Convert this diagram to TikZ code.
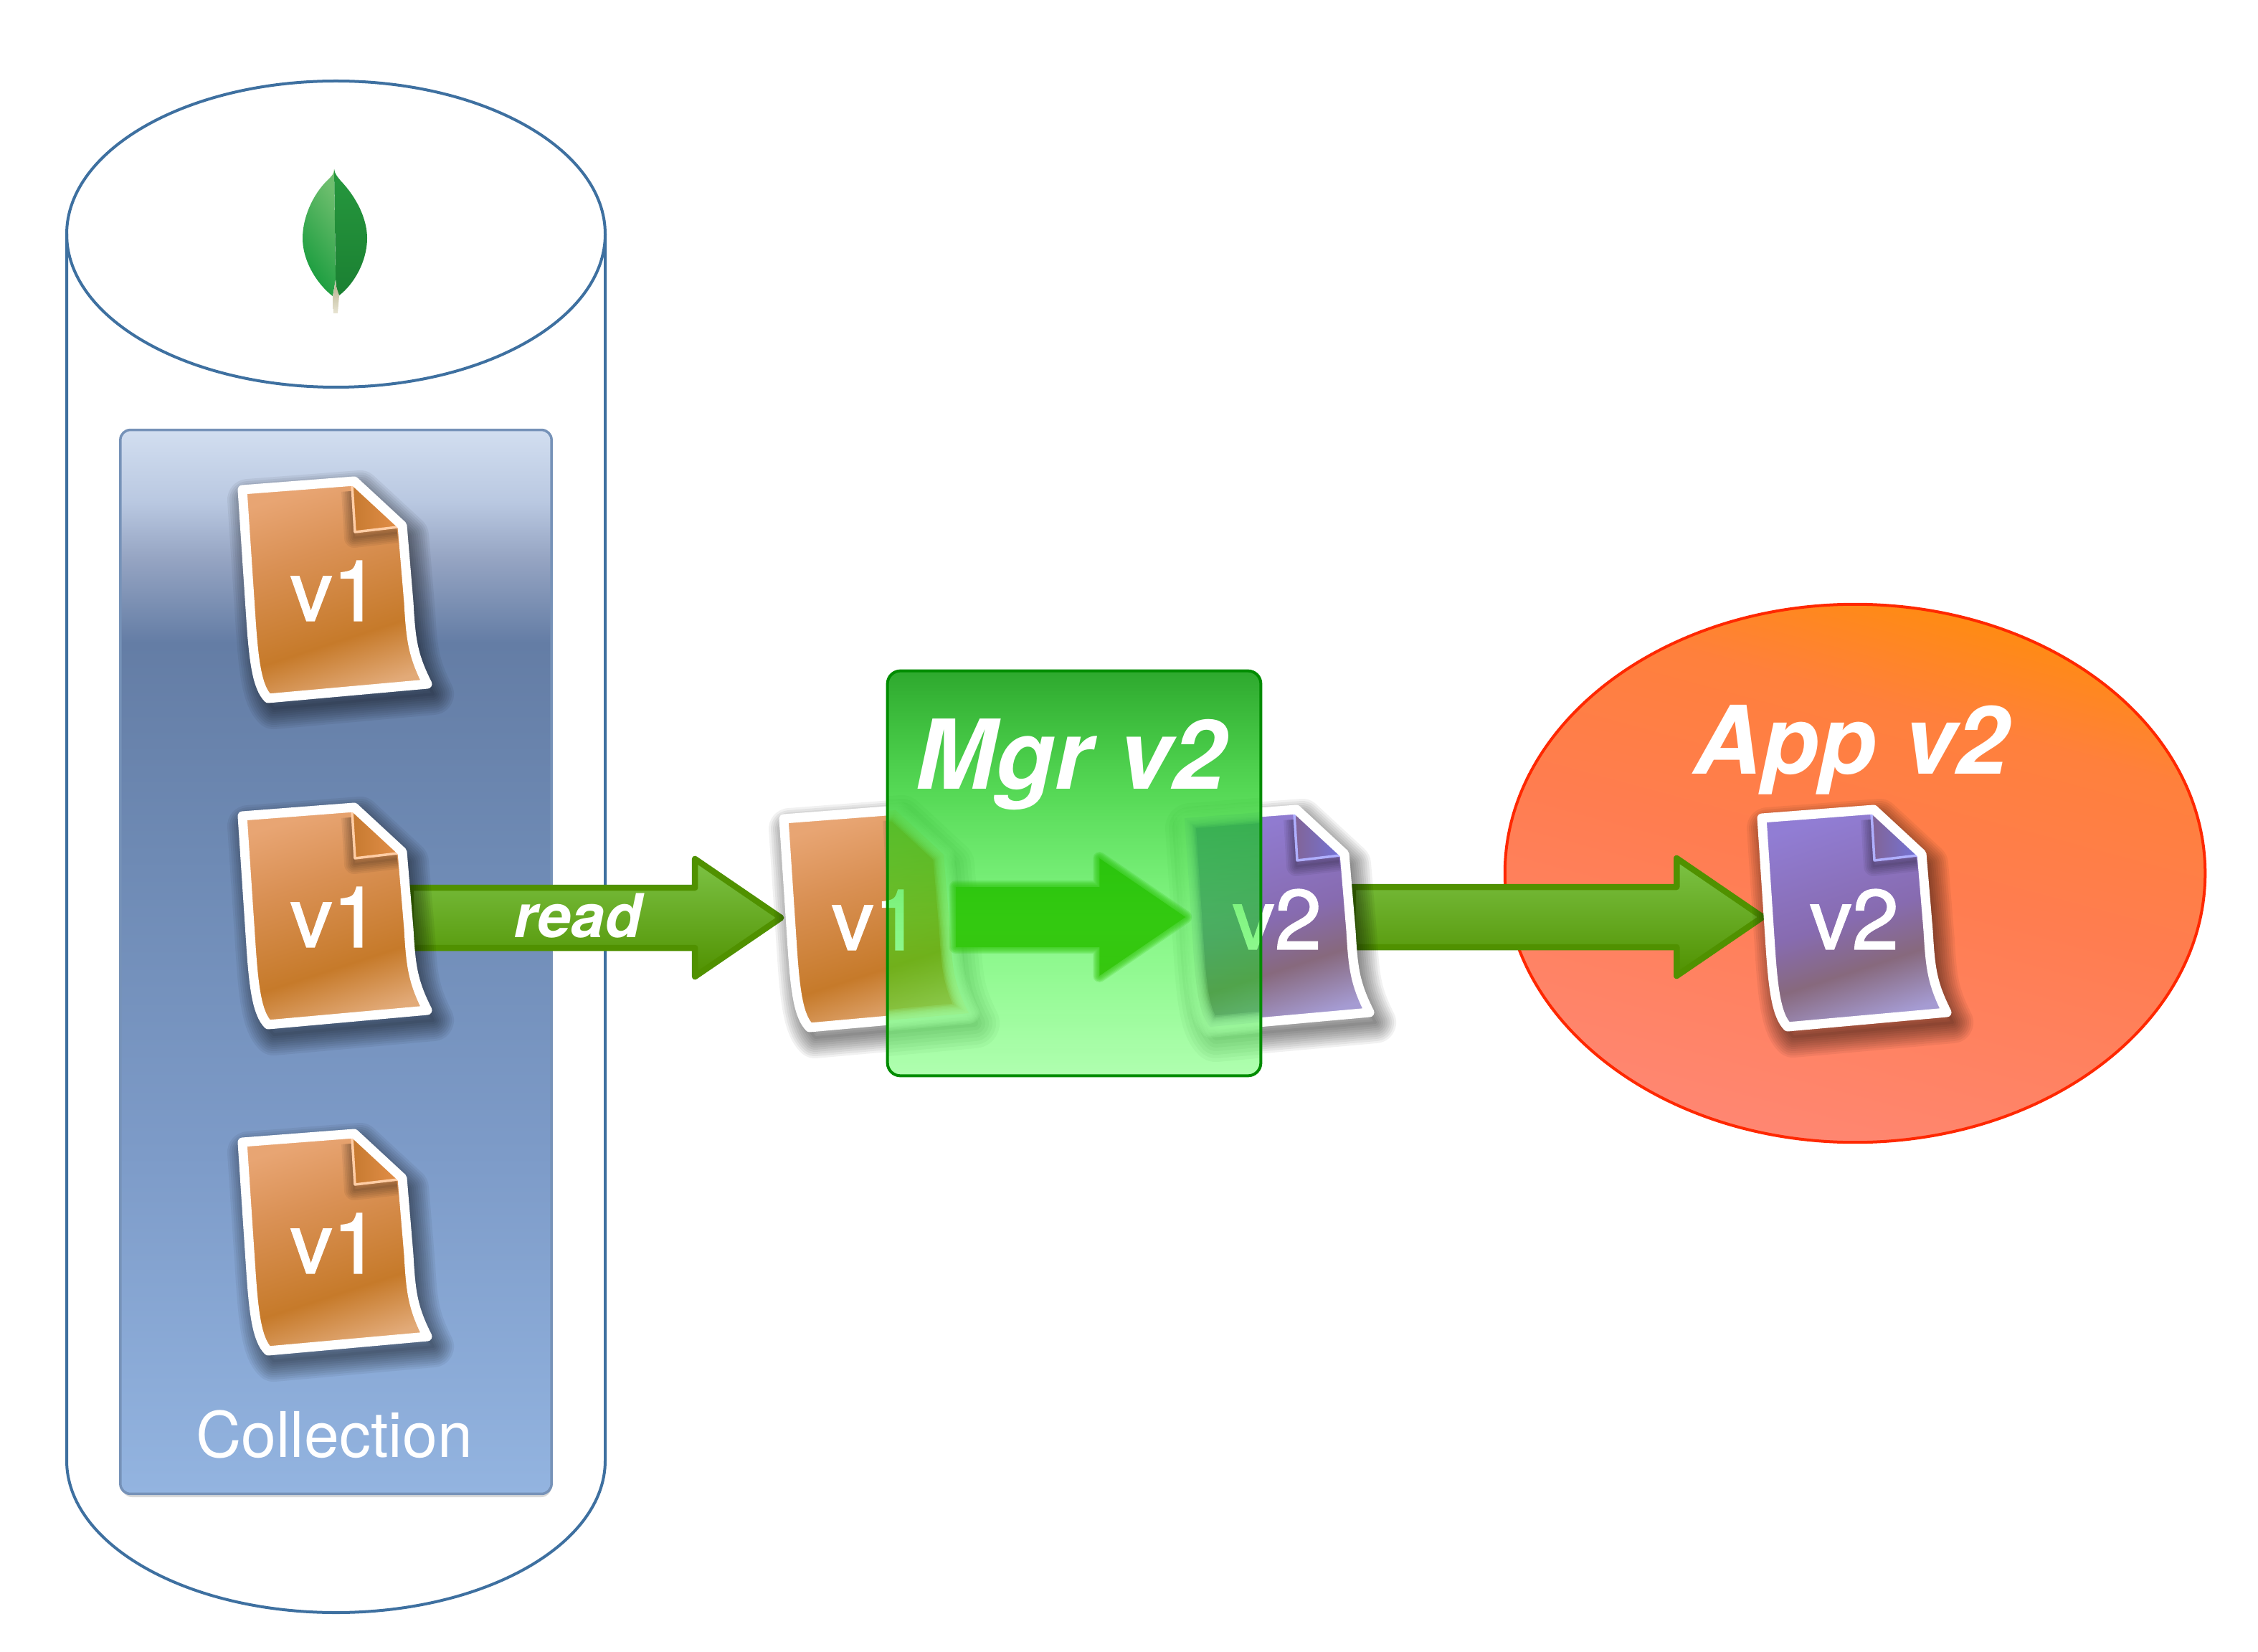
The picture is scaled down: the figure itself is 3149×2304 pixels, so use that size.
\documentclass[tikz,border=0pt]{standalone}
\usepackage{fontspec}
\setmainfont{TeX Gyre Heros}
\newfontfamily\docfont[FakeBold=1.4]{TeX Gyre Heros}
\usetikzlibrary{calc,fadings,shapes.geometric}

\pgfdeclarelayer{back}
\pgfdeclarelayer{art}
\pgfdeclarelayer{frost}
\pgfdeclarelayer{glass}
\pgfsetlayers{back,art,frost,main,glass}

\definecolor{cylline}{RGB}{62,112,160}
\definecolor{colledge}{RGB}{118,146,184}
\definecolor{arrowedge}{RGB}{80,145,0}
\definecolor{arrowtop}{RGB}{125,195,70}
\definecolor{arrowsoft}{RGB}{90,165,20}
\definecolor{glassedge}{RGB}{0,140,0}
\definecolor{appedge}{RGB}{255,40,0}
\definecolor{foldodark}{RGB}{198,122,48}
\definecolor{foldolight}{RGB}{226,142,72}
\definecolor{foldoedge}{RGB}{255,205,165}
\definecolor{foldpdark}{RGB}{130,100,150}
\definecolor{foldplight}{RGB}{115,115,215}
\definecolor{foldpedge}{RGB}{175,175,255}
\definecolor{leafa}{RGB}{22,155,60}
\definecolor{leafb}{RGB}{110,190,110}
\definecolor{leafc}{RGB}{38,152,62}
\definecolor{leafd}{RGB}{27,128,50}
\definecolor{stema}{RGB}{180,175,140}
\definecolor{stemb}{RGB}{232,228,210}

\definecolor{colla}{RGB}{147,180,224}
\definecolor{collb}{RGB}{125,155,200}
\definecolor{collc}{RGB}{110,138,180}
\definecolor{colld}{RGB}{100,125,165}
\definecolor{colle}{RGB}{150,165,195}
\definecolor{collf}{RGB}{185,200,225}
\definecolor{collg}{RGB}{210,222,240}
\pgfdeclareverticalshading{collfill}{100bp}{color(0bp)=(colla); color(25bp)=(colla); color(41bp)=(collb); color(55bp)=(collc); color(65bp)=(colld); color(69bp)=(colle); color(71.6bp)=(collf); color(75bp)=(collg); color(100bp)=(collg)}

\definecolor{dora}{RGB}{226,170,120}
\definecolor{dorb}{RGB}{198,122,42}
\definecolor{dorc}{RGB}{218,145,85}
\definecolor{dord}{RGB}{232,165,115}
\pgfdeclareverticalshading{docorange}{100bp}{color(0bp)=(dora); color(25bp)=(dora); color(38bp)=(dorb); color(60bp)=(dorc); color(75bp)=(dord); color(100bp)=(dord)}

\definecolor{dpua}{RGB}{165,155,210}
\definecolor{dpub}{RGB}{135,105,125}
\definecolor{dpuc}{RGB}{135,107,176}
\definecolor{dpud}{RGB}{145,125,212}
\pgfdeclareverticalshading{docpurple}{100bp}{color(0bp)=(dpua); color(25bp)=(dpua); color(38bp)=(dpub); color(50bp)=(dpuc); color(75bp)=(dpud); color(100bp)=(dpud)}

\definecolor{appa}{RGB}{255,135,115}
\definecolor{appb}{RGB}{255,125,80}
\definecolor{appc}{RGB}{255,128,60}
\definecolor{appd}{RGB}{255,140,15}
\pgfdeclareverticalshading{appfill}{100bp}{color(0bp)=(appa); color(25bp)=(appa); color(50bp)=(appb); color(65bp)=(appc); color(75bp)=(appd); color(100bp)=(appd)}

\definecolor{glsa}{RGB}{0,255,0}
\definecolor{glsb}{RGB}{14,237,14}
\definecolor{glsc}{RGB}{2,197,2}
\definecolor{glsd}{RGB}{0,150,0}
\pgfdeclareverticalshading{glassfill}{100bp}{color(0bp)=(glsa); color(25bp)=(glsa); color(44.5bp)=(glsb); color(60.5bp)=(glsc); color(75bp)=(glsd); color(100bp)=(glsd)}
\tikzfading[name=glassfade, top color=transparent!18, bottom color=transparent!69]

\newcommand{\docoutline}{(-118,-141) -- (38,-153) -- (105,-91) -- (114,16)
  .. controls (117,70) and (120,90) .. (140,130) -- (-82,150)
  .. controls (-97,135) and (-102,100) .. (-106,40) -- cycle}

% x, y, body shading, fold dark, fold light, fold edge
\newcommand{\docart}[6]{
  \begin{scope}[shift={(#1,#2)}]
    \foreach \w in {4,10,...,58} {
      \draw[black, opacity=.055, line width=\w*.01cm, line join=round, shift={(8,14)}] \docoutline;
    }
    \shade[shading=#3, shading angle=18] \docoutline;
    \begin{scope}
      \clip \docoutline;
      \foreach \w in {3,8,...,28} {
        \draw[black, opacity=.06, line width=\w*.01cm, line join=round, shift={(-1,8)}] (35,-147) -- (39,-82) -- (99,-89);
      }
      \shade[left color=#4, right color=#5] (35,-147) -- (39,-82) -- (99,-89) -- cycle;
      \draw[#6, line width=.035cm, line join=round] (35,-147) -- (39,-82) -- (99,-89);
    \end{scope}
    \draw[white, line width=.13cm, line join=round] \docoutline;
  \end{scope}
}

% the same document as seen through the green glass
\newcommand{\docfrost}[3]{
  \begin{scope}[shift={(#1,#2)}]
    \foreach \w in {10,20,...,70} {
      \draw[black, opacity=.04, line width=\w*.01cm, line join=round, shift={(8,14)}] \docoutline;
    }
    \shade[shading=#3, shading angle=18] \docoutline;
    \foreach \w in {6,10,...,30} {
      \draw[white, opacity=.2, line width=\w*.01cm, line join=round] \docoutline;
    }
  \end{scope}
}

\begin{document}
\begin{tikzpicture}[
  x=.01cm, y=-.01cm,
  docspot/.style={minimum width=2.32cm, minimum height=2.6cm, inner sep=0pt, text=white,
    font=\docfont\fontsize{33.5}{36}\selectfont, execute at begin node={\hspace*{.22cm}}},
  blockarrow/.style={line join=round, to path={
    ($(\tikztostart |- \tikztotarget)+(0,-45)$) -- ($(\tikztotarget)+(-120,-45)$) --
    ($(\tikztotarget)+(-120,-85)$) -- ($(\tikztotarget)+(0,-3)$) --
    ($(\tikztotarget)+(-120,79)$) -- ($(\tikztotarget)+(-120,39)$) --
    ($(\tikztostart |- \tikztotarget)+(0,39)$) -- cycle}},
  fatarrow/.style={blockarrow, draw=arrowedge, line width=.085cm,
    top color=arrowtop, bottom color=arrowedge},
  title/.style={text=white, anchor=base, inner sep=0pt,
    font=\fontsize{37.5}{40}\selectfont\bfseries\itshape}
]

\useasboundingbox (0,0) rectangle (3149,2304);

\begin{pgfonlayer}{back}
\fill[white] (0,0) rectangle (3149,2304);

% cylinder
\draw[cylline, line width=.04cm] (93,326) -- (93,2037) arc[start angle=180, end angle=360, x radius=375.5, y radius=-212] -- (844,326);
\draw[cylline, line width=.04cm] (468.5,326.5) ellipse[x radius=375.5, y radius=213.5];

% leaf
\shade[left color=leafa, right color=leafb, shading angle=125]
  (466,236) .. controls (466,243) and (462,246) .. (458,250) .. controls (435,272) and (422,305) .. (422,332)
  .. controls (422,365) and (443,397) .. (464,413) -- (468,390) -- cycle;
\shade[top color=leafc, bottom color=leafd]
  (466,236) .. controls (467,243) and (471,247) .. (475,252) .. controls (497,275) and (512,305) .. (512,332)
  .. controls (512,365) and (493,397) .. (473,412) .. controls (469,405) and (468,395) .. (468,380) -- cycle;
\shade[top color=stema, bottom color=stemb]
  (467,392) .. controls (468,398) and (471,406) .. (473,412) -- (471,437) -- (465,437) -- (464,413) .. controls (466,405) and (467,398) .. (467,392) -- cycle;

% collection box
\fill[black, opacity=.15, rounded corners=.14cm] (170,606) rectangle (769,2088);
\node[shading=collfill, draw=colledge, line width=.035cm, rounded corners=.14cm,
  minimum width=6.01cm, minimum height=14.83cm, inner sep=0pt] (coll) at (468.5,1341.5) {};

% app
\node[ellipse, shading=appfill, shading angle=-15, draw=appedge, line width=.04cm,
  minimum width=9.76cm, minimum height=7.5cm, inner sep=0pt] (app) at (2587,1218) {};
\end{pgfonlayer}

% documents in the collection, then the two in the middle, then the app's
\node[docspot] (doca) at (456,824) {v1};
\node[docspot] (docb) at (456,1279) {v1};
\node[docspot] (docc) at (456,1734) {v1};
\node[docspot, minimum width=2.42cm] (docold) at (1211,1283) {v1};
\node[docspot] (docnew) at (1770,1282) {v2};
\node[docspot] (docapp) at (2575,1282) {v2};

\begin{pgfonlayer}{art}
\foreach \y in {824,1279,1734} {
  \docart{456}{\y}{docorange}{foldodark}{foldolight}{foldoedge}
}
\docart{1211}{1283}{docorange}{foldodark}{foldolight}{foldoedge}
\docart{1770}{1282}{docpurple}{foldpdark}{foldplight}{foldpedge}
\docart{2575}{1282}{docpurple}{foldpdark}{foldplight}{foldpedge}
\end{pgfonlayer}

% arrows
\begin{pgfonlayer}{back}
\path[fatarrow] (docb.east) to (docold.west);
\path[fatarrow] (docnew.east) to (docapp.west);
\end{pgfonlayer}

\node[text=white, anchor=base, inner sep=0pt, font=\fontsize{24}{26}\selectfont\bfseries\itshape] (readlabel) at (806,1307) {read};
\node[text=white, anchor=base, inner sep=0pt, font=\fontsize{25}{27}\selectfont] (colllabel) at (466,2032) {Collection};
\node[title] (applabel) at (2581,1079) {App v2};

% green glass
\begin{pgfonlayer}{glass}
\node[shading=glassfill, path fading=glassfade, rounded corners=.18cm, minimum width=5.19cm,
  minimum height=5.63cm, inner sep=0pt] (mgr) at (1498,1218) {};
\draw[glassedge, line width=.04cm, rounded corners=.18cm] (mgr.north west) rectangle (mgr.south east);
\node[title, font=\fontsize{38.2}{40}\selectfont\bfseries\itshape] (mgrlabel) at (1493,1100) {Mgr v2};
\end{pgfonlayer}

% what lies under the glass is blurred
\begin{pgfonlayer}{frost}
\begin{scope}
  \clip[rounded corners=.18cm] (mgr.north west) rectangle (mgr.south east);
  \fill[white] (mgr.north west) rectangle (mgr.south east);
  \docfrost{1211}{1283}{docorange}
  \docfrost{1770}{1282}{docpurple}
  \foreach \w in {3,6,...,18} {
    \draw[blockarrow, draw=arrowsoft, opacity=.2, line width=\w*.01cm] (docold.east) to (docnew.west);
  }
  \fill[blockarrow, arrowsoft] (docold.east) to (docnew.west);
\end{scope}
\end{pgfonlayer}

\end{tikzpicture}
\end{document}
